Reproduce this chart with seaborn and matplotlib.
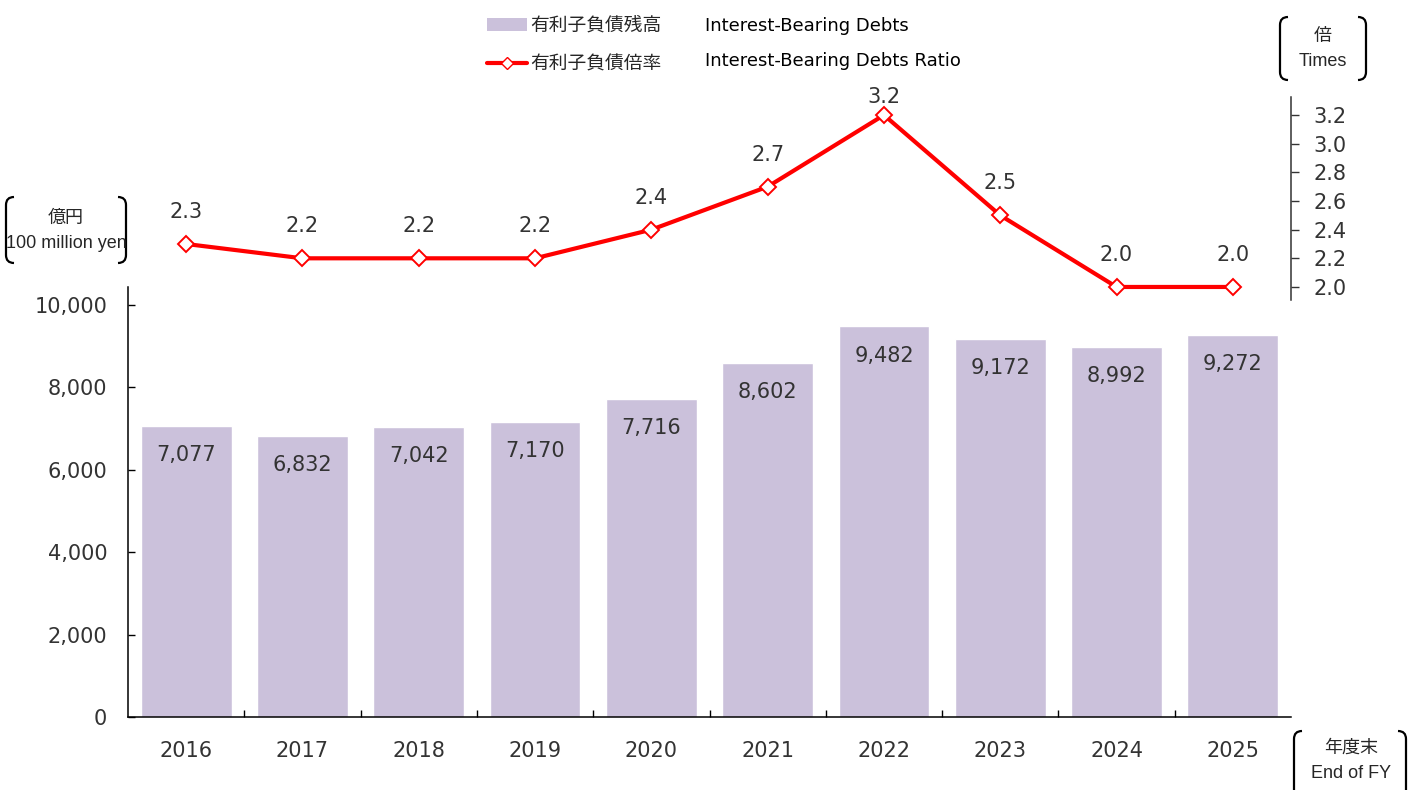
import numpy as np
import matplotlib
matplotlib.use('Agg')
import matplotlib.pyplot as plt
import seaborn as sns
from matplotlib.patches import Patch, PathPatch
from matplotlib.lines import Line2D
from matplotlib.path import Path
from matplotlib.ticker import FixedLocator, FuncFormatter

# Data
years = ['2016', '2017', '2018', '2019', '2020', '2021', '2022', '2023', '2024', '2025']
debts = [7077, 6832, 7042, 7170, 7716, 8602, 9482, 9172, 8992, 9272]
ratio = [2.3, 2.2, 2.2, 2.2, 2.4, 2.7, 3.2, 2.5, 2.0, 2.0]
debt_ticks = [0, 2000, 4000, 6000, 8000, 10000]
ratio_ticks = [2.0, 2.2, 2.4, 2.6, 2.8, 3.0, 3.2]

sns.set_style('white')
plt.rcParams['font.family'] = ['DejaVu Sans', 'Noto Sans CJK JP']

W, H = 1410, 790
bar_color = '#CBC1DB'
txt = '#333333'
cjk = ['Noto Sans CJK JP', 'DejaVu Sans']
arial = ['Liberation Sans', 'Noto Sans CJK JP']

fig = plt.figure(figsize=(W / 100, H / 100), dpi=100)

def fx(x):
    return x / W

def fy(y):
    return 1 - y / H

# bar chart (bottom)
ax = fig.add_axes([fx(128), fy(717), fx(1291) - fx(128), (717 - 287) / H])
sns.barplot(x=years, y=debts, color=bar_color, saturation=1, width=0.78, ax=ax)
ax.set_xlim(-0.5, len(years) - 0.5)
ax.set_ylim(0, 10440)
ax.set_xlabel('')
ax.set_ylabel('')
for s in ['top', 'right']:
    ax.spines[s].set_visible(False)
for s in ['left', 'bottom']:
    ax.spines[s].set_color('black')
    ax.spines[s].set_linewidth(1.1)
ax.yaxis.set_major_locator(FixedLocator(debt_ticks))
ax.yaxis.set_major_formatter(FuncFormatter(lambda v, p: f'{int(v):,}'))
ax.tick_params(axis='y', direction='in', length=5, width=1, color='black',
               pad=15, labelsize=15, labelcolor=txt, left=True)
ax.tick_params(axis='x', which='major', length=0, pad=17, labelsize=15, labelcolor=txt)
ax.xaxis.set_minor_locator(FixedLocator(np.arange(0.5, len(years) - 1, 1)))
ax.tick_params(axis='x', which='minor', direction='in', length=5, width=1,
               color='black', bottom=True)

for i, v in enumerate(debts):
    ax.annotate(f'{v:,}', (i, v), xytext=(0, -21), textcoords='offset points',
                ha='center', va='center', fontsize=15, color=txt)

# ratio line (top)
ax2 = fig.add_axes([fx(128), fy(300), fx(1291) - fx(128), (300 - 97) / H])
ax2.patch.set_alpha(0)
xs = np.arange(len(years))
sns.lineplot(x=xs, y=ratio, color='#FF0000', linewidth=3, marker='D',
             markersize=8, markerfacecolor='white', markeredgecolor='#FF0000',
             markeredgewidth=1.4, ax=ax2)
ax2.set_xlim(-0.5, len(years) - 0.5)
ax2.set_ylim(1.909, 3.326)
for s in ['top', 'left', 'bottom']:
    ax2.spines[s].set_visible(False)
ax2.spines['right'].set_color('#333333')
ax2.spines['right'].set_linewidth(1.1)
ax2.set_xticks([])
ax2.yaxis.tick_right()
ax2.yaxis.set_major_locator(FixedLocator(ratio_ticks))
ax2.yaxis.set_major_formatter(FuncFormatter(lambda v, p: f'{v:.1f}'))
ax2.tick_params(axis='y', direction='out', length=6, width=1, color='#333333',
                pad=10, labelsize=15, labelcolor=txt, right=True, left=False)
top = int(np.argmax(ratio))
for i, v in enumerate(ratio):
    off = 13 if i == top else 23
    ax2.annotate(f'{v:.1f}', (i, v), xytext=(0, off), textcoords='offset points',
                 ha='center', va='center', fontsize=15, color=txt)

# legend
handles = [Patch(facecolor=bar_color, edgecolor='none'),
           Line2D([0], [0], color='#FF0000', linewidth=3, marker='D', markersize=6,
                  markerfacecolor='white', markeredgecolor='#FF0000')]
fig.legend(handles, ['有利子負債残高', '有利子負債倍率'], loc='upper left',
           bbox_to_anchor=(fx(472), fy(0)), frameon=False,
           prop={'family': cjk, 'size': 13.5}, handlelength=2.15,
           handletextpad=0.15, labelspacing=0.92, borderpad=0.3)
fig.text(fx(705), fy(26), 'Interest-Bearing Debts', fontsize=13, ha='left',
         va='center', color='black')
fig.text(fx(705), fy(61), 'Interest-Bearing Debts Ratio', fontsize=13, ha='left',
         va='center', color='black')

# bracketed unit labels
def bracket(x0, y0, x1, y1, r=8):
    for side in (0, 1):
        if side == 0:
            xa, xb = x0, x0 + r
        else:
            xa, xb = x1, x1 - r
        pts = [(xb, y0), (xa, y0), (xa, y0 + r), (xa, y1 - r), (xa, y1), (xb, y1)]
        codes = [Path.MOVETO, Path.CURVE3, Path.CURVE3, Path.LINETO, Path.CURVE3, Path.CURVE3]
        path = Path([(fx(px), fy(py)) for px, py in pts], codes)
        fig.add_artist(PathPatch(path, facecolor='none', edgecolor='black',
                                 linewidth=1.6, transform=fig.transFigure))

bracket(6, 197, 126, 263)
fig.text(fx(66), fy(218), '億円', fontsize=13, ha='center', va='center', family=arial)
fig.text(fx(66), fy(243), '100 million yen', fontsize=13, ha='center', va='center', family=arial)

bracket(1280, 17, 1366, 80)
fig.text(fx(1323), fy(36), '倍', fontsize=13, ha='center', va='center', family=arial)
fig.text(fx(1323), fy(61), 'Times', fontsize=13, ha='center', va='center', family=arial)

bracket(1294, 731, 1406, 798)
fig.text(fx(1351), fy(748), '年度末', fontsize=13, ha='center', va='center', family=arial)
fig.text(fx(1351), fy(774), 'End of FY', fontsize=13, ha='center', va='center', family=arial)

plt.savefig('out.png', dpi=100)
